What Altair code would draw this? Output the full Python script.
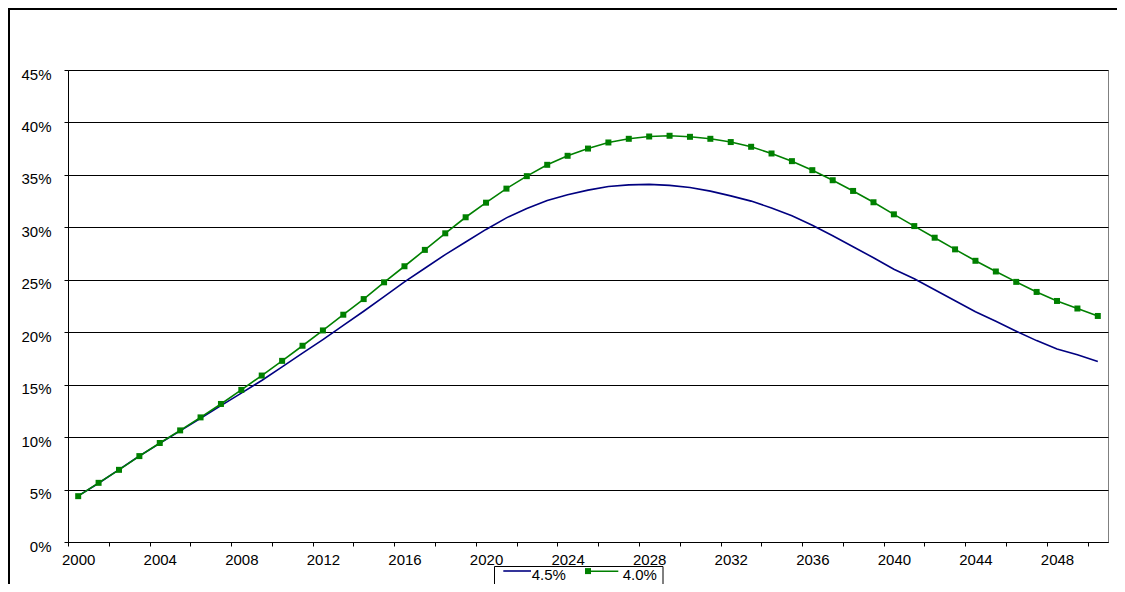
import altair as alt
import pandas as pd

years = list(range(2000, 2051))
rate_45 = [4.4, 5.6, 6.9, 8.2, 9.4, 10.6, 11.8, 13.0, 14.2, 15.4,
           16.7, 18.0, 19.3, 20.65, 22.0, 23.4, 24.8, 26.1, 27.4, 28.6,
           29.8, 30.9, 31.8, 32.55, 33.1, 33.55, 33.9, 34.05, 34.1, 34.0,
           33.8, 33.45, 33.0, 32.5, 31.85, 31.1, 30.2, 29.2, 28.15, 27.1,
           26.0, 25.1, 24.05, 23.0, 21.95, 21.05, 20.1, 19.2, 18.4, 17.85, 17.2]
rate_40 = [4.37, 5.64, 6.88, 8.19, 9.44, 10.64, 11.88, 13.16, 14.50, 15.87,
           17.27, 18.71, 20.17, 21.67, 23.16, 24.76, 26.29, 27.85, 29.43, 30.96,
           32.35, 33.69, 34.88, 35.96, 36.82, 37.51, 38.09, 38.44, 38.66, 38.73,
           38.63, 38.44, 38.13, 37.68, 37.04, 36.31, 35.45, 34.49, 33.47, 32.39,
           31.24, 30.12, 29.01, 27.90, 26.81, 25.79, 24.80, 23.84, 22.98, 22.26, 21.55]
series_names = ["4.5%", "4.0%"]
y_ticks = [0, 5, 10, 15, 20, 25, 30, 35, 40, 45]
x_tick_bounds = [1999.5 + i for i in range(52)]

FONT = "Liberation Sans"
BLUE = "#000080"
GREEN = "#008000"
W, H = 1040, 472
PAD = {"left": 60, "top": 62, "right": 9, "bottom": 42}

df45 = pd.DataFrame({"year": years, "value": rate_45, "series": series_names[0]})
df40 = pd.DataFrame({"year": years, "value": rate_40, "series": series_names[1]})

xscale = alt.Scale(domain=[1999.5, 2050.5], nice=False, zero=False)
yscale = alt.Scale(domain=[0, 45], nice=False, zero=True)

xaxis = alt.Axis(
    values=x_tick_bounds, title=None, grid=False,
    labelExpr="((datum.value + 0.5) % 4 == 0) ? format(datum.value + 0.5, 'd') : ''",
    labelOffset=10.2, labelOverlap=False, labelBound=False, labelFlush=False,
    tickSize=4, tickColor="black", domainColor="black", labelPadding=6,
    labelFont=FONT, labelFontSize=15, labelColor="black",
)
yaxis = alt.Axis(
    values=y_ticks, title=None, grid=True, gridColor="black", gridWidth=1,
    labelExpr="datum.value + '%'", tickSize=4, tickColor="black",
    domainColor="black", labelPadding=13, labelOffset=4,
    labelFont=FONT, labelFontSize=15, labelColor="black",
)

blue = alt.Chart(df45).mark_line(color=BLUE, strokeWidth=1.6).encode(
    x=alt.X("year:Q", scale=xscale, axis=xaxis),
    y=alt.Y("value:Q", scale=yscale, axis=yaxis),
)
green = alt.Chart(df40).mark_line(color=GREEN, strokeWidth=1.6).encode(
    x=alt.X("year:Q", scale=xscale),
    y=alt.Y("value:Q", scale=yscale),
)
green_pts = alt.Chart(df40).mark_point(
    shape="square", filled=True, color=GREEN, size=36, opacity=1
).encode(
    x=alt.X("year:Q", scale=xscale),
    y=alt.Y("value:Q", scale=yscale),
)

one = pd.DataFrame({"k": [0]})
# outer frame
frame_left = alt.Chart(one).mark_rule(color="black", strokeWidth=2).encode(
    x=alt.value(-59), y=alt.value(-62), y2=alt.value(H + PAD["bottom"]))
frame_top = alt.Chart(one).mark_rule(color="black", strokeWidth=2).encode(
    x=alt.value(-60), x2=alt.value(W + PAD["right"]), y=alt.value(-61))

# legend
leg_box = alt.Chart(one).mark_rect(fill="white", stroke="black", strokeWidth=1).encode(
    x=alt.value(426.5), x2=alt.value(595), y=alt.value(496.5), y2=alt.value(H + PAD["bottom"] + 5))
leg_blue_line = alt.Chart(one).mark_rule(color=BLUE, strokeWidth=1.6).encode(
    x=alt.value(435.3), x2=alt.value(463), y=alt.value(501))
leg_green_line = alt.Chart(one).mark_rule(color=GREEN, strokeWidth=1.6).encode(
    x=alt.value(517), x2=alt.value(550.3), y=alt.value(501.3))
leg_green_pt = alt.Chart(one).mark_point(
    shape="square", filled=True, color=GREEN, size=36, opacity=1).encode(
    x=alt.value(520), y=alt.value(501.1))
leg_df = pd.DataFrame({"label": series_names, "pos": [0, 1]})
leg_text1 = alt.Chart(leg_df[leg_df.pos == 0]).mark_text(
    font=FONT, fontSize=15, align="left", baseline="alphabetic", color="black").encode(
    text="label:N", x=alt.value(463.7), y=alt.value(509.8))
leg_text2 = alt.Chart(leg_df[leg_df.pos == 1]).mark_text(
    font=FONT, fontSize=15, align="left", baseline="alphabetic", color="black").encode(
    text="label:N", x=alt.value(554.7), y=alt.value(509.8))

chart = alt.layer(
    frame_left, frame_top, blue, green, green_pts,
    leg_box, leg_blue_line, leg_green_line, leg_green_pt, leg_text1, leg_text2,
).properties(
    width=W, height=H,
    padding=PAD,
    autosize=alt.AutoSizeParams(type="none"),
    background="white",
).configure_view(stroke="#808080", strokeWidth=1)

chart.save("out.html", embed_options={"renderer": "svg", "actions": False})
